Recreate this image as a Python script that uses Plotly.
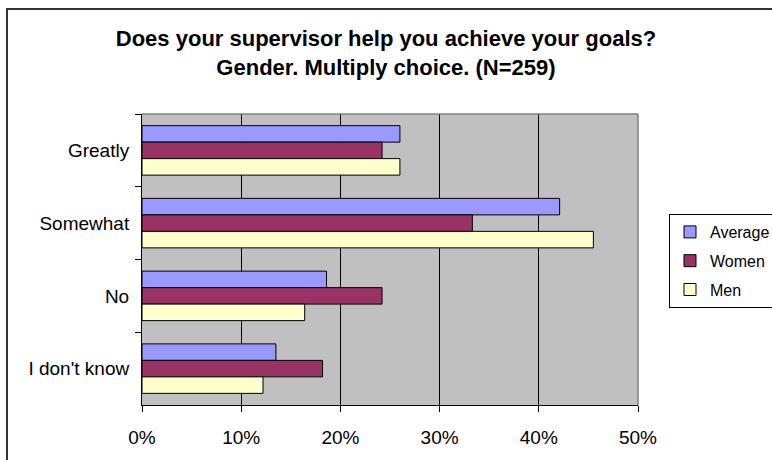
import plotly.graph_objects as go

categories = ["Greatly", "Somewhat", "No", "I don't know"]
average = [0.260, 0.421, 0.186, 0.135]
women = [0.242, 0.333, 0.242, 0.182]
men = [0.260, 0.455, 0.164, 0.122]
series_names = ["Average", "Women", "Men"]
series_colors = ["#9999FF", "#993366", "#FFFFCC"]
x_ticks = [0, 0.1, 0.2, 0.3, 0.4, 0.5]
x_tick_labels = ["0%", "10%", "20%", "30%", "40%", "50%"]

FONT = "Liberation Sans, Arial, sans-serif"

fig = go.Figure()
for name, vals, col in zip(series_names, [average, women, men], series_colors):
    fig.add_trace(go.Bar(
        y=categories, x=vals, name=name, orientation="h",
        marker=dict(color=col, line=dict(color="black", width=1)),
        legendgroup=name,
    ))

W, H = 772, 460
L, R, T, B = 142, 638, 114, 405

def px(xp):
    return (xp - L) / (R - L)

def py(yp):
    return (B - yp) / (B - T)

fig.update_layout(
    width=W, height=H,
    margin=dict(l=L, r=W - R, t=T, b=H - B, autoexpand=False),
    paper_bgcolor="white",
    plot_bgcolor="#C0C0C0",
    barmode="group",
    bargap=0.32,
    bargroupgap=0,
    font=dict(family=FONT, size=17, color="black"),
    title=dict(
        text="<b>Does your supervisor help you achieve your goals?<br>Gender. Multiply choice. (N=259)</b>",
        x=0.5, xref="container", xanchor="center",
        y=(H - 46) / H, yref="container", yanchor="top",
        font=dict(family=FONT, size=22, color="black"),
    ),
    legend=dict(
        x=px(669), y=py(214), xanchor="left", yanchor="top",
        bgcolor="white", bordercolor="black", borderwidth=1,
        font=dict(family=FONT, size=16, color="black"),
        tracegroupgap=5,
        traceorder="grouped",
    ),
    xaxis=dict(
        range=[0, 0.5], tickvals=x_ticks, ticktext=x_tick_labels,
        showgrid=True, gridcolor="black", gridwidth=1,
        showline=True, linecolor="black", linewidth=1,
        ticks="outside", ticklen=6, tickcolor="black",
        ticklabelstandoff=9,
        zeroline=False,
        tickfont=dict(family=FONT, size=19),
    ),
    yaxis=dict(
        categoryorder="array", categoryarray=categories,
        autorange="reversed",
        showgrid=False, showline=True, linecolor="black", linewidth=1,
        ticks="outside", ticklen=6, tickcolor="black",
        tickson="boundaries",
        ticklabelstandoff=8,
        tickfont=dict(family=FONT, size=19),
    ),
    shapes=[
        dict(type="line", xref="paper", yref="paper", x0=0, x1=1, y0=1, y1=1,
             line=dict(color="#808080", width=1.5)),
        dict(type="line", xref="paper", yref="paper", x0=1, x1=1, y0=0, y1=1,
             line=dict(color="#808080", width=1.5)),
        dict(type="rect", xref="paper", yref="paper",
             x0=px(7), x1=px(900), y0=py(560), y1=py(9),
             line=dict(color="#333333", width=2)),
    ],
)

fig.write_html(
    "out.html",
    config={"displayModeBar": False},
    post_script="document.body.style.margin='0';document.body.style.overflow='hidden';",
)
